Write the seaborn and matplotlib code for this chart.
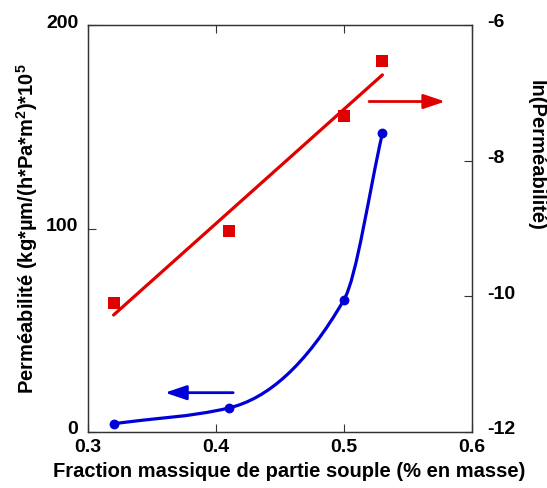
import numpy as np
import matplotlib
matplotlib.use('Agg')
import matplotlib.pyplot as plt
from matplotlib.path import Path
from matplotlib.patches import PathPatch
from matplotlib.transforms import ScaledTranslation
import pandas as pd
import seaborn as sns

# data
fraction = [0.32, 0.41, 0.50, 0.53]             # fraction massique de partie souple
permeability = [4.1, 11.8, 65.0, 146.8]         # kg*µm/(h*Pa*m²) * 1e5
ln_permeability = [-10.10, -9.04, -7.34, -6.53]  # ln(Perméabilité)

x_ticks = [0.3, 0.4, 0.5, 0.6]
left_ticks = [0, 100, 200]
right_ticks = [-12, -10, -8, -6]

BLUE = '#0000D6'
RED = '#E00000'

df = pd.DataFrame({'fraction': fraction, 'perm': permeability, 'lnperm': ln_permeability})


def smooth_path(x, y):
    """monotone cubic through the points, drawn as bezier segments"""
    x = np.asarray(x, float)
    y = np.asarray(y, float)
    h = np.diff(x)
    d = np.diff(y) / h
    m = np.empty_like(x)
    m[0], m[-1] = d[0], d[-1]
    for k in range(1, len(x) - 1):
        w1, w2 = 2 * h[k] + h[k - 1], h[k] + 2 * h[k - 1]
        m[k] = (w1 + w2) / (w1 / d[k - 1] + w2 / d[k])
    verts, codes = [(x[0], y[0])], [Path.MOVETO]
    for k in range(len(h)):
        verts += [(x[k] + h[k] / 3, y[k] + m[k] * h[k] / 3),
                  (x[k + 1] - h[k] / 3, y[k + 1] - m[k + 1] * h[k] / 3),
                  (x[k + 1], y[k + 1])]
        codes += [Path.CURVE4] * 3
    return Path(verts, codes)


sns.set_style('ticks')
plt.rcParams['font.family'] = ['Liberation Sans', 'DejaVu Sans']
plt.rcParams['font.weight'] = 'bold'
plt.rcParams['mathtext.fontset'] = 'custom'
plt.rcParams['mathtext.rm'] = 'Liberation Sans:bold'
plt.rcParams['mathtext.bf'] = 'Liberation Sans:bold'
plt.rcParams['axes.unicode_minus'] = False
for key in ('text.color', 'axes.labelcolor', 'xtick.labelcolor', 'ytick.labelcolor'):
    plt.rcParams[key] = 'black'

fig = plt.figure(figsize=(5.47, 4.88), dpi=100)
ax = fig.add_axes([88 / 547, 1 - 432 / 488, 384 / 547, 407 / 488])
ax2 = ax.twinx()

# blue: permeability (left axis)
ax.add_patch(PathPatch(smooth_path(fraction, permeability), facecolor='none',
                       edgecolor=BLUE, lw=2.3, capstyle='round'))
sns.scatterplot(data=df, x='fraction', y='perm', ax=ax, color=BLUE, s=50,
                edgecolor=BLUE, linewidth=0, zorder=3)

# red: ln(permeability) with linear fit (right axis)
sns.regplot(data=df, x='fraction', y='lnperm', ax=ax2, ci=None, marker='s',
            color=RED, scatter_kws={'s': 75, 'linewidths': 0, 'alpha': 1},
            line_kws={'lw': 2.3})

ax.set_xlim(0.3, 0.6)
ax.set_ylim(0, 200)
ax2.set_ylim(-12, -6)
ax.set_xticks(x_ticks)
ax.set_xticklabels([str(v) for v in x_ticks])
ax.set_yticks(left_ticks)
ax2.set_yticks(right_ticks)

for a in (ax, ax2):
    for sp in a.spines.values():
        sp.set_visible(True)
        sp.set_color('#333333')
        sp.set_linewidth(0.9)
ax.tick_params(axis='both', direction='in', length=6, width=0.8, color='#333333',
               labelsize=14, labelcolor='black', top=True)
ax.tick_params(axis='x', pad=5)
ax.tick_params(axis='y', pad=7, right=False)
ax2.tick_params(axis='y', direction='in', length=6, width=0.8, color='#333333',
                labelsize=14, labelcolor='black', pad=11)

# y tick labels sit a little above their ticks in the reference
lift = ScaledTranslation(0, 4 / 100, fig.dpi_scale_trans)
for lab in ax.get_yticklabels() + ax2.get_yticklabels():
    lab.set_transform(lab.get_transform() + lift)

ax.set_xlabel('Fraction massique de partie souple (% en masse)', fontsize=14.5,
              fontweight='bold', va='center', color='black')
ax.xaxis.set_label_coords(0.523, -0.098)
ax.set_ylabel('Perméabilité (kg*µm/(h*Pa*m$^2$)*10$^5$', fontsize=14.5,
              fontweight='bold', va='center', color='black')
ax.yaxis.set_label_coords(-0.159, 0.5)
ax2.set_ylabel('ln(Perméabilité)', fontsize=14.5, fontweight='bold', color='black',
               rotation=270, va='center', ha='center')
ax2.yaxis.set_label_coords(1.167, 0.68)

# arrows pointing to the matching axis
arrow = '-|>,head_length=0.65,head_width=0.22'
ax.annotate('', xy=(0.930, 0.812), xytext=(0.732, 0.812), xycoords='axes fraction',
            arrowprops=dict(arrowstyle=arrow, color=RED, lw=2, mutation_scale=20,
                            shrinkA=0, shrinkB=0))
ax.annotate('', xy=(0.2005, 0.0966), xytext=(0.378, 0.0966), xycoords='axes fraction',
            arrowprops=dict(arrowstyle=arrow, color=BLUE, lw=2, mutation_scale=20,
                            shrinkA=0, shrinkB=0))

fig.savefig('out.png', dpi=100)
